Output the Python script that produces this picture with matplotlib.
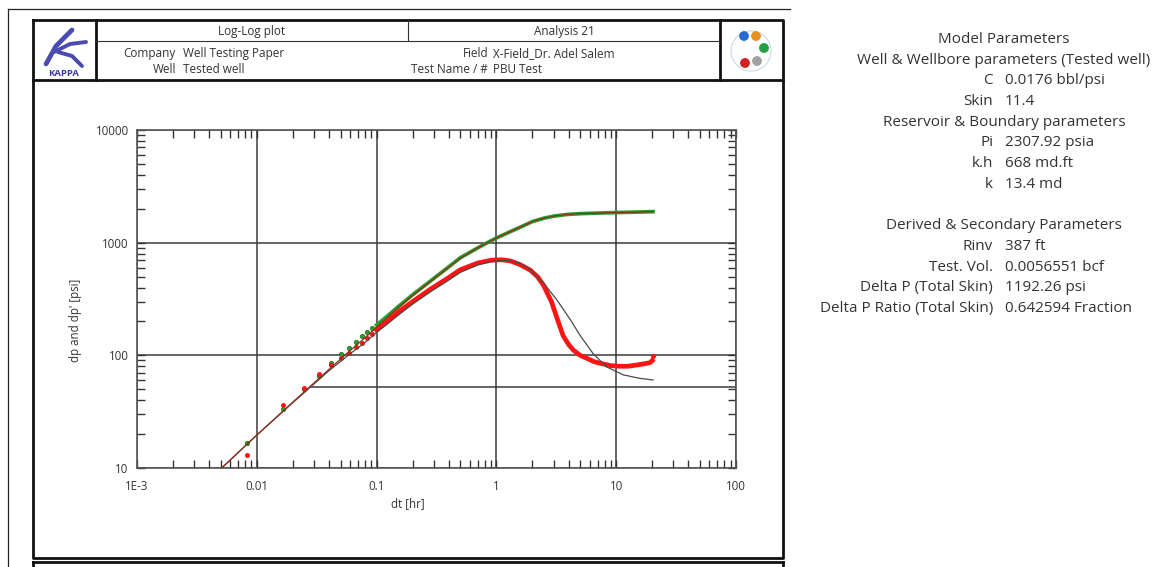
import numpy as np
import matplotlib.pyplot as plt
from matplotlib.patches import Circle
from matplotlib.ticker import FixedLocator, NullFormatter

plt.rcParams['font.family'] = ['Open Sans', 'DejaVu Sans']

# ---- data ----
# early measured points (30 s sampling)
t_early = [0.00833, 0.01667, 0.025, 0.0333, 0.04167, 0.05, 0.0583, 0.0667, 0.075, 0.0833, 0.0917]
dp_early = [16.8, 33.2, 50, 66, 86, 102, 117, 132, 148, 160, 174]
der_early = [13.0, 36, 51.6, 67.8, 82, 95, 105.5, 119, 129, 142, 155]

# dense measured points
t_dp = [0.1, 0.12, 0.15, 0.2, 0.28, 0.4, 0.5, 0.7, 0.84, 1.0, 1.3, 1.6, 2.0, 2.5,
        3.0, 3.9, 5.0, 6.5, 8.0, 10, 13, 16, 20.3]
dp = [186, 218, 268, 345, 455, 610, 735, 900, 1000, 1100, 1250, 1380, 1540, 1650,
      1720, 1780, 1810, 1825, 1838, 1850, 1862, 1872, 1885]
t_der = [0.1, 0.12, 0.15, 0.2, 0.28, 0.4, 0.5, 0.7, 0.9, 1.1, 1.3, 1.57, 1.91, 2.2,
         2.47, 2.88, 3.2, 3.6, 4.0, 4.4, 5.0, 5.7, 6.5, 7.7, 9.0, 10.7, 12.5, 14.8,
         17.0, 19.1, 20.0]
der = [168, 195, 240, 300, 385, 490, 575, 660, 698, 705, 690, 640, 572, 500,
       420, 300, 215, 150, 125, 111, 100, 94, 88, 84, 81, 80, 80, 82, 84, 86, 90]
t_last, der_last = [20.3], [99]

# model curves
t_mod_p = [0.00509, 0.01, 0.02, 0.04, 0.06, 0.08, 0.1, 0.15, 0.2, 0.28, 0.4, 0.5, 0.7,
           1.0, 1.3, 1.6, 2.0, 2.5, 3.0, 3.9, 5.0, 6.5, 8.0, 10, 13, 16, 20.3]
mod_p = [10, 19.6, 38.5, 75, 110, 143, 178, 262, 340, 450, 605, 730, 900,
         1100, 1250, 1380, 1540, 1650, 1720, 1780, 1810, 1825, 1838, 1850, 1862, 1872, 1884]
t_mod_d = [0.00509, 0.01, 0.02, 0.04, 0.06, 0.08, 0.1, 0.15, 0.2, 0.28, 0.4, 0.5, 0.7,
           0.9, 1.1, 1.3, 1.6, 1.9, 2.47, 3.2, 4.16, 5.0, 6.4, 8.3, 11.5, 15.7, 20.3]
mod_d = [10, 19.6, 38, 73, 103, 130, 160, 225, 285, 365, 465, 545, 635,
         680, 695, 690, 650, 580, 440, 310, 206, 150, 104, 79, 67, 62.5, 60.4]

stab_t0, stab_val = 0.0278, 52.7

x_ticks = [1e-3, 1e-2, 1e-1, 1, 10, 100]
x_labels = ['1E-3', '0.01', '0.1', '1', '10', '100']
y_ticks = [10, 100, 1000, 10000]
y_labels = ['10', '100', '1000', '10000']

params = [
    ('head', 'Model Parameters'),
    ('head', 'Well & Wellbore parameters (Tested well)'),
    ('C', '0.0176 bbl/psi'),
    ('Skin', '11.4'),
    ('head', 'Reservoir & Boundary parameters'),
    ('Pi', '2307.92 psia'),
    ('k.h', '668 md.ft'),
    ('k', '13.4 md'),
    (None, None),
    ('head', 'Derived & Secondary Parameters'),
    ('Rinv', '387 ft'),
    ('Test. Vol.', '0.0056551 bcf'),
    ('Delta P (Total Skin)', '1192.26 psi'),
    ('Delta P Ratio (Total Skin)', '0.642594 Fraction'),
]

W, H = 1156, 567
fig = plt.figure(figsize=(W / 100, H / 100), dpi=100)

# page overlay in pixel units
bg = fig.add_axes([0, 0, 1, 1])
bg.set_xlim(0, W)
bg.set_ylim(H, 0)
bg.axis('off')

thin = dict(color='#222222', lw=0.9)
thick = dict(color='#111111', lw=2.0)
bg.plot([8, 8], [9, H], **thin)
bg.plot([8, 790], [9, 9], **thin)
bg.plot([33, 783, 783, 33, 33], [20, 20, 558, 558, 20], **thick)
bg.plot([33, 783], [562, 562], **thick)
bg.plot([33, 33], [562, H], **thick)
bg.plot([783, 783], [562, H], **thick)
bg.plot([33, 783], [80, 80], **thick)
bg.plot([96, 96], [20, 80], **thick)
bg.plot([720, 720], [20, 80], **thick)
bg.plot([96, 720], [41, 41], color='#333333', lw=0.8)
bg.plot([408, 408], [20, 41], color='#333333', lw=0.8)

hdr = dict(fontsize=8.5, color='#333333', va='baseline')
bg.text(252, 35, 'Log-Log plot', ha='center', **hdr)
bg.text(564, 35, 'Analysis 21', ha='center', **hdr)
bg.text(176, 57, 'Company', ha='right', **hdr)
bg.text(183, 57, 'Well Testing Paper', ha='left', **hdr)
bg.text(176, 73, 'Well', ha='right', **hdr)
bg.text(183, 73, 'Tested well', ha='left', **hdr)
bg.text(488, 57, 'Field', ha='right', **hdr)
bg.text(493, 57, 'X-Field_Dr. Adel Salem', ha='left', **hdr)
bg.text(488, 73, 'Test Name / #', ha='right', **hdr)
bg.text(493, 73, 'PBU Test', ha='left', **hdr)

# KAPPA logo (rough)
bg.plot([46, 56, 72], [64, 46, 30], color='#4a4ab0', lw=3.4, solid_capstyle='round')
bg.plot([54, 70, 86], [52, 44, 42], color='#4a4ab0', lw=2.8, solid_capstyle='round')
bg.plot([58, 72, 82], [52, 56, 66], color='#4a4ab0', lw=2.8, solid_capstyle='round')
bg.text(64, 73, 'KAPPA', ha='center', va='center', fontsize=6.8, color='#3a3aa0',
        fontweight='bold')

# Saphir-like icon
bg.add_patch(Circle((751, 51), 20, fill=False, ec='#c8d8e8', lw=0.8))
for (cx, cy), col in zip([(744, 36), (756, 36), (764, 48), (745, 63), (757, 61)],
                         ['#2a6ad0', '#e89020', '#20a040', '#d02020', '#a0a0a0']):
    bg.add_patch(Circle((cx, cy), 4.2, color=col))

# right-side parameter panel
y0, dy = 43, 20.7
for i, (lab, val) in enumerate(params):
    y = y0 + i * dy
    if lab is None:
        continue
    if lab == 'head':
        bg.text(1004, y, val, ha='center', va='baseline', fontsize=11, color='#333333')
    else:
        bg.text(993, y, lab, ha='right', va='baseline', fontsize=11, color='#333333')
        bg.text(1005, y, val, ha='left', va='baseline', fontsize=11, color='#333333')

# ---- log-log plot ----
L, R, T, B = 137, 736, 130, 468
ax = fig.add_axes([L / W, (H - B) / H, (R - L) / W, (B - T) / H])
ax.set_xscale('log')
ax.set_yscale('log')
ax.set_xlim(1e-3, 100)
ax.set_ylim(10, 10000)

ax.grid(True, which='major', color='#3a3a3a', lw=1.1)
ax.hlines(stab_val, stab_t0, 100, color='#3a3a3a', lw=1.1, zorder=1.5)

ax.plot(t_dp, dp, color='#2f9a2f', lw=2.7, zorder=3)
ax.plot(t_early, dp_early, 'o', ms=3.2, color='#2f9a2f', mec='#1f6f1f', mew=0.5, zorder=3)
ax.plot(t_der, der, color='#ff1414', lw=3.4, zorder=3)
ax.plot(t_early, der_early, 'o', ms=3.6, color='#ff1414', mec='none', zorder=3)
ax.plot(t_last, der_last, 'o', ms=3.6, color='#ff1414', mec='none', zorder=3)
ax.plot(t_mod_d, mod_d, color='#4a4a4a', lw=0.9, zorder=4)
ax.plot(t_mod_p, mod_p, color='#8a3018', lw=0.9, zorder=4)

ax.xaxis.set_major_locator(FixedLocator(x_ticks))
ax.set_xticklabels(x_labels)
ax.yaxis.set_major_locator(FixedLocator(y_ticks))
ax.set_yticklabels(y_labels)
ax.xaxis.set_minor_formatter(NullFormatter())
ax.yaxis.set_minor_formatter(NullFormatter())
ax.tick_params(which='both', direction='in', top=True, right=True, color='#333333',
               length=6, width=1.0, labelsize=8.3, labelcolor='#333333')
ax.tick_params(axis='x', pad=9)
ax.tick_params(axis='y', pad=6)
for s in ax.spines.values():
    s.set_color('#555555')
    s.set_linewidth(1.2)

bg.text(408, 504, 'dt [hr]', ha='center', va='center', fontsize=8.3, color='#333333')
bg.text(75, 320, "dp and dp' [psi]", ha='center', va='center', rotation=90,
        fontsize=8.3, color='#333333')

fig.savefig('out.png', dpi=100)
